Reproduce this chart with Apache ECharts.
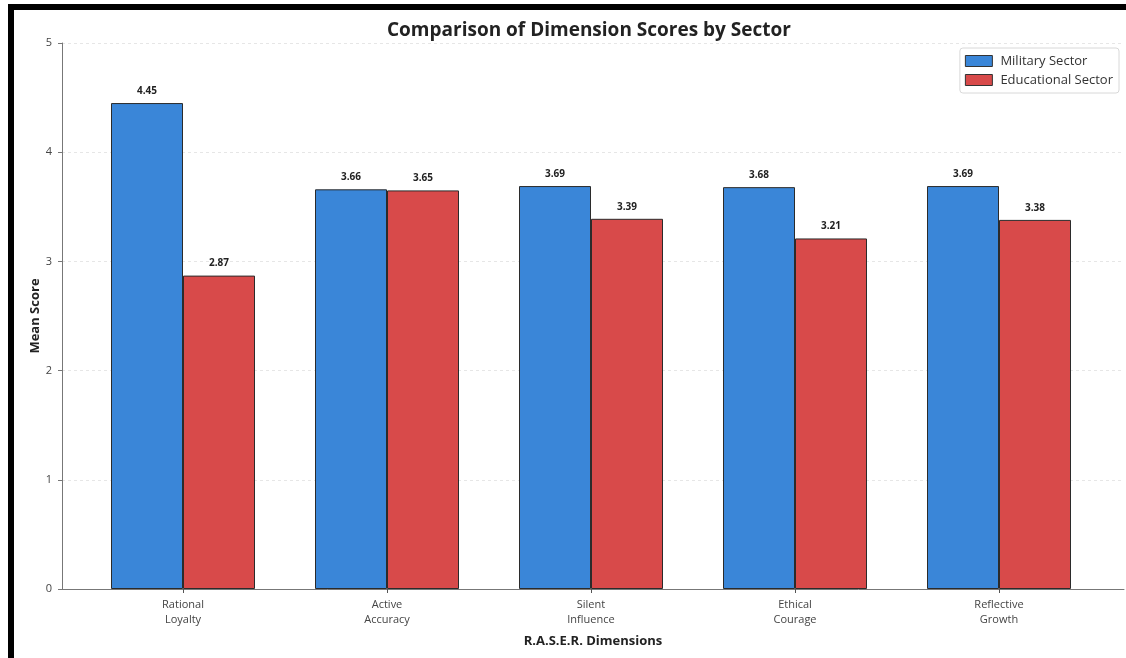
<!DOCTYPE html>
<html>
<head>
<meta charset="utf-8">
<script src="https://cdn.jsdelivr.net/npm/echarts@6/dist/echarts.min.js"></script>
<style>
  html, body { margin: 0; padding: 0; background: #fff; }
  #frame {
    position: absolute; left: 8px; top: 4px; width: 1118px; height: 654px;
    border-top: 6px solid #000; border-left: 6px solid #000; box-sizing: border-box;
  }
  #chart { width: 1112px; height: 648px; }
</style>
</head>
<body>
<div id="frame"><div id="chart"></div></div>
<script>
const dimensions = ['Rational\nLoyalty', 'Active\nAccuracy', 'Silent\nInfluence', 'Ethical\nCourage', 'Reflective\nGrowth'];
const militaryScores = [4.45, 3.66, 3.69, 3.68, 3.69];
const educationalScores = [2.87, 3.65, 3.39, 3.21, 3.38];
const yTicks = [0, 1, 2, 3, 4, 5];

const FONT = '"Open Sans", "DejaVu Sans", sans-serif';
const chart = echarts.init(document.getElementById('chart'));

const valueLabel = {
  show: true,
  position: 'top',
  distance: 7,
  fontFamily: FONT,
  fontSize: 10,
  fontWeight: 'bold',
  color: '#222',
  formatter: (p) => p.value.toFixed(2),
};

chart.setOption({
  animation: false,
  textStyle: { fontFamily: FONT },
  title: {
    text: 'Comparison of Dimension Scores by Sector',
    left: 368,
    top: 6,
    textStyle: { fontFamily: FONT, fontSize: 19, fontWeight: 'bold', color: '#222' },
  },
  legend: {
    data: ['Military Sector', 'Educational Sector'],
    orient: 'vertical',
    right: 7,
    top: 38,
    itemWidth: 27,
    itemHeight: 11,
    itemGap: 5,
    padding: [6, 6, 6, 5],
    borderColor: '#d8d8d8',
    borderWidth: 1,
    borderRadius: 3,
    backgroundColor: '#fff',
    icon: 'rect',
    itemStyle: { borderWidth: 1, borderColor: '#333' },
    textStyle: { fontFamily: FONT, fontSize: 13, lineHeight: 14, color: '#333', padding: [0, 0, 0, 3] },
  },
  grid: [
    { left: 67, right: 25, top: 33, bottom: 69 },
    { left: 48, right: 2, top: 33, bottom: 69 },
  ],
  xAxis: [
    {
      type: 'category',
      gridIndex: 0,
      data: dimensions,
      axisLine: { show: false },
      axisTick: { show: true, alignWithLabel: true, length: 4, lineStyle: { color: '#555' } },
      axisLabel: { fontFamily: FONT, fontSize: 11, color: '#444', lineHeight: 15, margin: 8 },
    },
    {
      type: 'value',
      gridIndex: 1,
      min: 0,
      max: 1,
      axisLine: { show: true, lineStyle: { color: '#777', width: 1 } },
      axisTick: { show: false },
      axisLabel: { show: false },
      splitLine: { show: false },
      name: 'R.A.S.E.R. Dimensions',
      nameLocation: 'middle',
      nameGap: 46,
      nameTextStyle: { fontFamily: FONT, fontSize: 13, fontWeight: 'bold', color: '#222' },
    },
  ],
  yAxis: [
    { type: 'value', gridIndex: 0, min: 0, max: 5, show: false },
    {
      type: 'value',
      gridIndex: 1,
      min: yTicks[0],
      max: yTicks[yTicks.length - 1],
      interval: 1,
      axisLine: { show: true, lineStyle: { color: '#777', width: 1 } },
      axisTick: { show: true, length: 4, lineStyle: { color: '#777' } },
      axisLabel: { fontFamily: FONT, fontSize: 11, color: '#444', margin: 10 },
      splitLine: { show: true, lineStyle: { color: '#e6e6e6', type: [3, 3] } },
      name: 'Mean Score',
      nameLocation: 'middle',
      nameGap: 20,
      nameMoveOverlap: false,
      nameTextStyle: { fontFamily: FONT, fontSize: 13, fontWeight: 'bold', color: '#222' },
    },
  ],
  series: [
    {
      name: 'Military Sector',
      type: 'bar',
      xAxisIndex: 0,
      yAxisIndex: 0,
      data: militaryScores,
      barWidth: 72,
      barGap: '0%',
      itemStyle: { color: '#3a86d8', borderColor: '#2b2b2b', borderWidth: 1 },
      label: valueLabel,
    },
    {
      name: 'Educational Sector',
      type: 'bar',
      xAxisIndex: 0,
      yAxisIndex: 0,
      data: educationalScores,
      barWidth: 72,
      barGap: '0%',
      itemStyle: { color: '#d84a4a', borderColor: '#2b2b2b', borderWidth: 1 },
      label: valueLabel,
    },
  ],
});
</script>
</body>
</html>
